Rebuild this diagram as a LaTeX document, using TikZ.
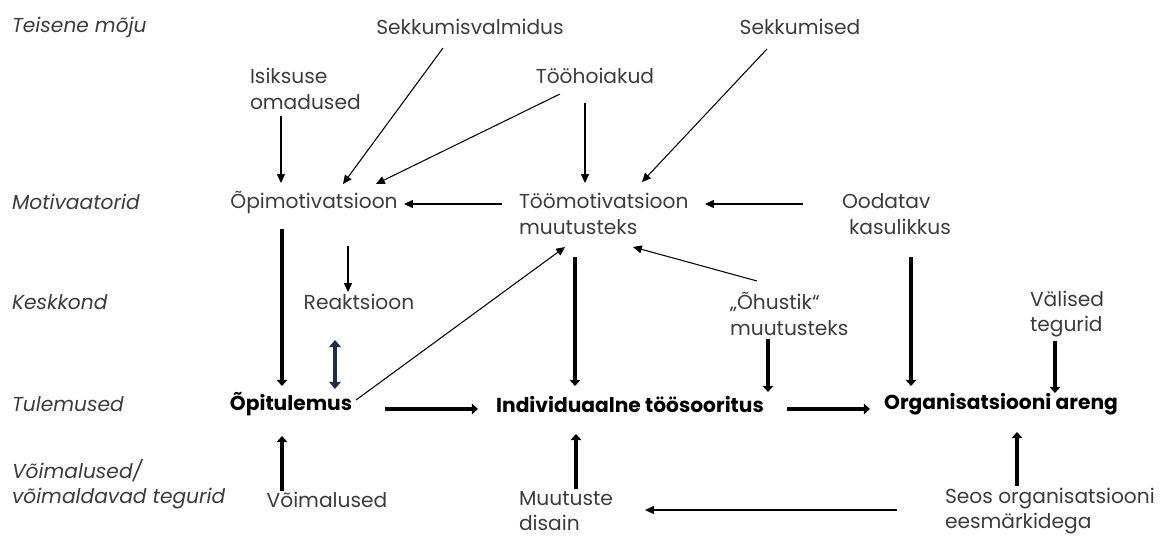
\documentclass[tikz,border=0pt]{standalone}
\usepackage{fontspec}
\setmainfont{Poppins}
\usetikzlibrary{arrows.meta, positioning, calc}
\definecolor{TextGrey}{RGB}{60, 60, 60}
\definecolor{DeepNavy}{RGB}{30, 44, 78}

\begin{document}
\begin{tikzpicture}[
            x=0.02cm, y=-0.02cm,
            every node/.style={inner sep=0pt, outer sep=0pt},
            factor/.style={font=\fontsize{11.5}{14.5}\selectfont, text=TextGrey, align=left},
            outcome/.style={font=\fontsize{11.5}{14.5}\selectfont\bfseries, text=black},
            rowname/.style={font=\fontsize{11.5}{14.5}\selectfont\itshape, text=TextGrey, align=left, anchor=west},
            thinarrow/.style={-{Triangle[length=5pt, width=4.5pt]}, line width=0.6pt, black},
            thickarrow/.style={-{Triangle[length=3.5pt, width=6pt]}, line width=2.2pt, black},
            bothway/.style={{Triangle[length=4pt, width=6.5pt]}-{Triangle[length=4pt, width=6.5pt]}, line width=2.1pt, DeepNavy}
        ]
            \useasboundingbox (0,0) rectangle (1162,536);

            % row names
            \node[rowname] (secondary) at (12,27) {Teisene mõju};
            \node[rowname] (motivators) at (12,202) {Motivaatorid};
            \node[rowname] (environment) at (12,302) {Keskkond};
            \node[rowname] (results) at (12,404) {Tulemused};
            \node[rowname] (enablers) at (12,484) {Võimalused/\\võimaldavad tegurid};

            % secondary influence
            \node[factor] (readiness) at (470,27) {Sekkumisvalmidus};
            \node[factor] (interventions) at (800,27) {Sekkumised};
            \node[factor, anchor=west] (personality) at (250,89) {Isiksuse\\omadused};
            \node[factor] (attitudes) at (595,76) {Tööhoiakud};

            % motivators
            \node[factor] (learnmot) at (314,202) {Õpimotivatsioon};
            \node[factor, anchor=west] (workmot) at (519,214) {Töömotivatsioon\\muutusteks};
            \node[factor, anchor=west] (utility) at (842,214) {Oodatav\\\hspace*{0.35em}kasulikkus};

            % environment
            \node[factor] (reaction) at (359,302) {Reaktsioon};
            \node[factor, anchor=west] (climate) at (730,314) {„Õhustik“\\muutusteks};
            \node[factor, anchor=west] (external) at (1030,314) {Välised\\tegurid};

            % results
            \node[outcome] (learning) at (291,404) {Õpitulemus};
            \node[outcome] (performance) at (630,404) {Individuaalne töösooritus};
            \node[outcome] (orgdev) at (1001,404) {Organisatsiooni areng};

            % enablers
            \node[factor] (chances) at (327,500) {Võimalused};
            \node[factor, anchor=west] (design) at (519,511) {Muutuste\\disain};
            \node[factor, anchor=west] (goals) at (945,511) {Seos organisatsiooni\\eesmärkidega};

            % thin links
            \draw[thinarrow] ([shift={(31,27)}]personality.west) -- ([shift={(-33,-19)}]learnmot.center);
            \draw[thinarrow] ([shift={(-27,21)}]readiness.center) -- ([shift={(29,-18)}]learnmot.center);
            \draw[thinarrow] ([shift={(-35,18)}]attitudes.center) -- ([shift={(62,-18)}]learnmot.center);
            \draw[thinarrow] ([shift={(-10,27)}]attitudes.center) -- ([shift={(66,-31)}]workmot.west);
            \draw[thinarrow] ([shift={(-33,22)}]interventions.center) -- ([shift={(123,-32)}]workmot.west);
            \draw[thinarrow] ([shift={(-17,-10)}]workmot.west) -- ([shift={(90,2)}]learnmot.center);
            \draw[thinarrow] ([shift={(-39,-10)}]utility.west) -- ([shift={(186,-10)}]workmot.west);
            \draw[thinarrow] ([shift={(34,44)}]learnmot.center) -- ([shift={(-11,-10)}]reaction.center);
            \draw[thinarrow] ([shift={(65,-4)}]learning.center) -- ([shift={(46,33)}]workmot.west);
            \draw[thinarrow] ([shift={(27,-33)}]climate.west) -- ([shift={(114,33)}]workmot.west);
            \draw[thinarrow] ([shift={(-48,-1)}]goals.west) -- ([shift={(126,-1)}]design.west);

            % thick links
            \draw[thickarrow] ([shift={(-32,27)}]learnmot.center) -- ([shift={(-9,-18)}]learning.center);
            \draw[thickarrow] ([shift={(56,43)}]workmot.west) -- ([shift={(-55,-18)}]performance.center);
            \draw[thickarrow] ([shift={(69,43)}]utility.west) -- ([shift={(-90,-18)}]orgdev.center);
            \draw[thickarrow] ([shift={(38,25)}]climate.west) -- ([shift={(138,-12)}]performance.center);
            \draw[thickarrow] ([shift={(25,27)}]external.west) -- ([shift={(54,-11)}]orgdev.center);
            \draw[thickarrow] ([shift={(94,5)}]learning.center) -- ([shift={(-152,5)}]performance.center);
            \draw[thickarrow] ([shift={(157,5)}]performance.center) -- ([shift={(-131,5)}]orgdev.center);
            \draw[thickarrow] ([shift={(-45,-9)}]chances.center) -- ([shift={(-9,32)}]learning.center);
            \draw[thickarrow] ([shift={(57,-22)}]design.west) -- ([shift={(-54,30)}]performance.center);
            \draw[thickarrow] ([shift={(72,-25)}]goals.west) -- ([shift={(16,28)}]orgdev.center);

            % reaction <-> learning
            \draw[bothway] ([shift={(-24,38)}]reaction.center) -- ([shift={(44,-15)}]learning.center);
        \end{tikzpicture}
\end{document}
